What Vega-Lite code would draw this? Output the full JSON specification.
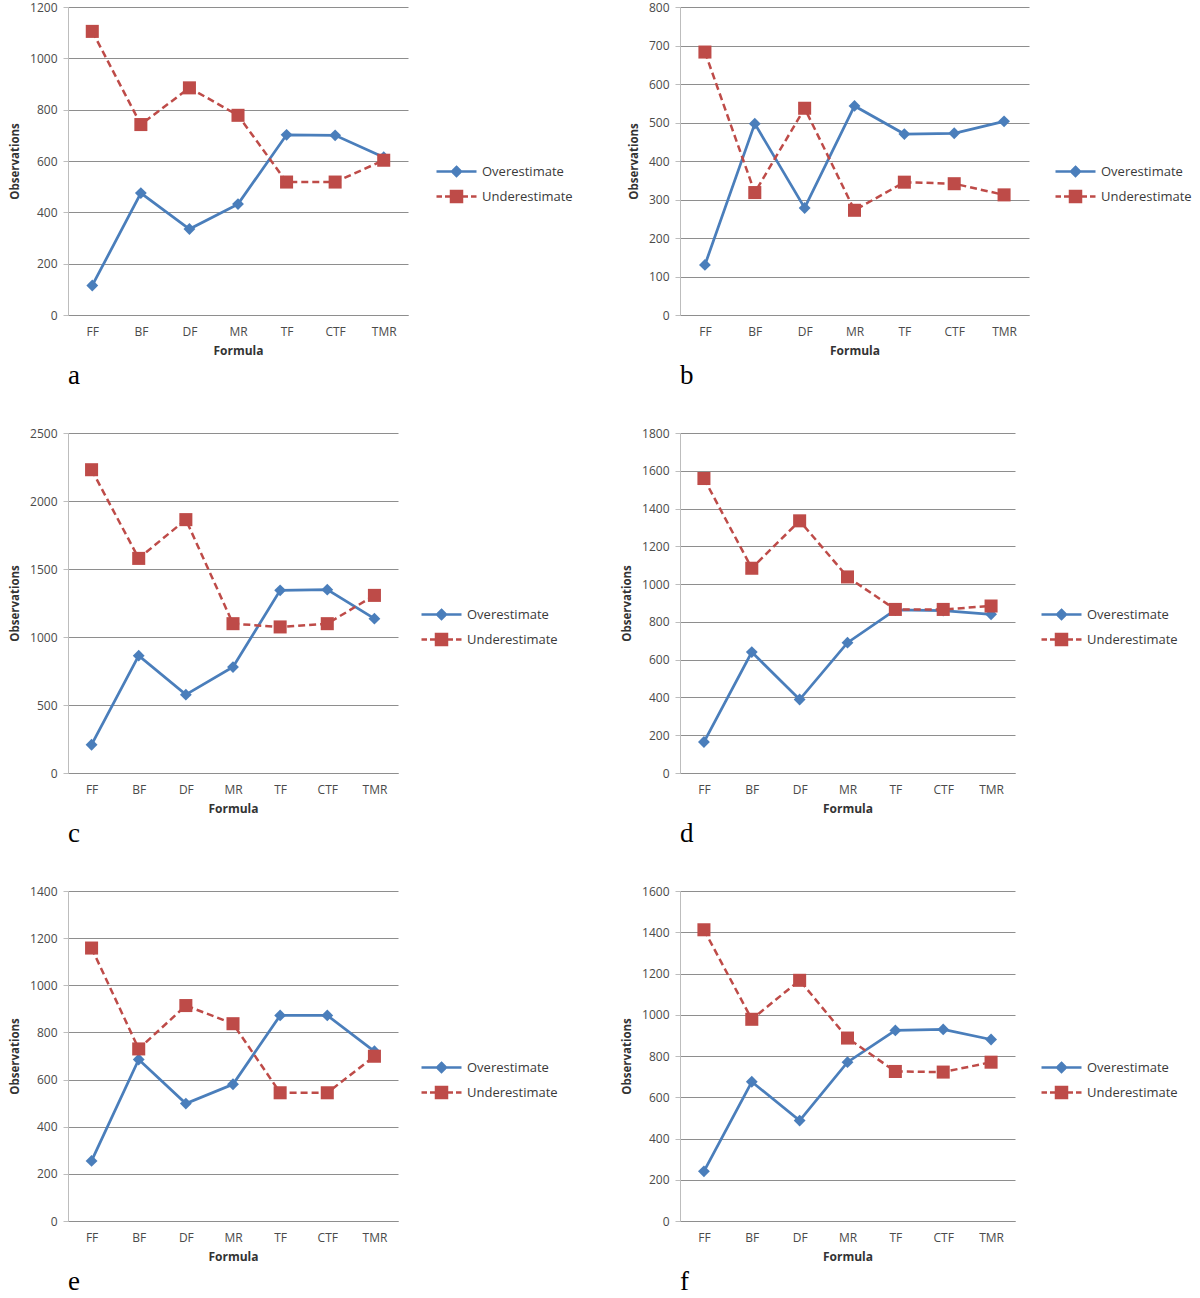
{
  "$schema": "https://vega.github.io/schema/vega-lite/v6.json",
  "padding": {"left": 9, "top": 1, "right": 0, "bottom": 0},
  "background": "white",
  "config": {
    "view": {"stroke": null},
    "font": "Open Sans",
    "axis": {"labelFont": "Open Sans", "labelFontSize": 12, "labelColor": "#4a4a4a", "titleFont": "Open Sans", "titleFontSize": 11.5, "titleFontWeight": "bold", "titleColor": "#333333", "domainColor": "#bdbdbd", "gridColor": "#8e8e8e", "gridWidth": 1, "tickColor": "#bdbdbd"},
    "axisX": {"grid": false, "ticks": false, "labelAngle": 0, "labelPadding": 11, "titlePadding": 8, "titleFontSize": 12, "domainColor": "#8e8e8e"},
    "axisY": {"grid": true, "tickSize": 5, "labelPadding": 6, "titlePadding": 9, "format": "d"},
    "title": {"font": "Liberation Serif", "fontSize": 27, "fontWeight": "normal", "color": "#000000"},
    "legend": {"orient": "none", "symbolSize": 400, "symbolStrokeWidth": 2.5, "symbolOpacity": 1, "labelFont": "Open Sans", "labelFontSize": 13, "labelColor": "#3a3a3a", "labelOffset": 14, "rowPadding": 4, "padding": 0}
  },
  "resolve": {
    "scale": {"fill": "independent", "stroke": "independent", "shape": "independent"},
    "legend": {"fill": "independent", "stroke": "independent", "shape": "independent"}
  },
  "data": {"values": [
    {"panel": "a", "formula": "FF", "series": "Overestimate", "value": 115},
    {"panel": "a", "formula": "BF", "series": "Overestimate", "value": 475},
    {"panel": "a", "formula": "DF", "series": "Overestimate", "value": 335},
    {"panel": "a", "formula": "MR", "series": "Overestimate", "value": 432},
    {"panel": "a", "formula": "TF", "series": "Overestimate", "value": 702},
    {"panel": "a", "formula": "CTF", "series": "Overestimate", "value": 700},
    {"panel": "a", "formula": "TMR", "series": "Overestimate", "value": 615},
    {"panel": "a", "formula": "FF", "series": "Underestimate", "value": 1105},
    {"panel": "a", "formula": "BF", "series": "Underestimate", "value": 742},
    {"panel": "a", "formula": "DF", "series": "Underestimate", "value": 885},
    {"panel": "a", "formula": "MR", "series": "Underestimate", "value": 778},
    {"panel": "a", "formula": "TF", "series": "Underestimate", "value": 518},
    {"panel": "a", "formula": "CTF", "series": "Underestimate", "value": 518},
    {"panel": "a", "formula": "TMR", "series": "Underestimate", "value": 603},
    {"panel": "b", "formula": "FF", "series": "Overestimate", "value": 130},
    {"panel": "b", "formula": "BF", "series": "Overestimate", "value": 497},
    {"panel": "b", "formula": "DF", "series": "Overestimate", "value": 278},
    {"panel": "b", "formula": "MR", "series": "Overestimate", "value": 543},
    {"panel": "b", "formula": "TF", "series": "Overestimate", "value": 470},
    {"panel": "b", "formula": "CTF", "series": "Overestimate", "value": 472},
    {"panel": "b", "formula": "TMR", "series": "Overestimate", "value": 503},
    {"panel": "b", "formula": "FF", "series": "Underestimate", "value": 683},
    {"panel": "b", "formula": "BF", "series": "Underestimate", "value": 318},
    {"panel": "b", "formula": "DF", "series": "Underestimate", "value": 537},
    {"panel": "b", "formula": "MR", "series": "Underestimate", "value": 272},
    {"panel": "b", "formula": "TF", "series": "Underestimate", "value": 345},
    {"panel": "b", "formula": "CTF", "series": "Underestimate", "value": 341},
    {"panel": "b", "formula": "TMR", "series": "Underestimate", "value": 312},
    {"panel": "c", "formula": "FF", "series": "Overestimate", "value": 208},
    {"panel": "c", "formula": "BF", "series": "Overestimate", "value": 863},
    {"panel": "c", "formula": "DF", "series": "Overestimate", "value": 576},
    {"panel": "c", "formula": "MR", "series": "Overestimate", "value": 779},
    {"panel": "c", "formula": "TF", "series": "Overestimate", "value": 1343},
    {"panel": "c", "formula": "CTF", "series": "Overestimate", "value": 1348},
    {"panel": "c", "formula": "TMR", "series": "Overestimate", "value": 1135},
    {"panel": "c", "formula": "FF", "series": "Underestimate", "value": 2230},
    {"panel": "c", "formula": "BF", "series": "Underestimate", "value": 1578},
    {"panel": "c", "formula": "DF", "series": "Underestimate", "value": 1863},
    {"panel": "c", "formula": "MR", "series": "Underestimate", "value": 1098},
    {"panel": "c", "formula": "TF", "series": "Underestimate", "value": 1074},
    {"panel": "c", "formula": "CTF", "series": "Underestimate", "value": 1098},
    {"panel": "c", "formula": "TMR", "series": "Underestimate", "value": 1306},
    {"panel": "d", "formula": "FF", "series": "Overestimate", "value": 164},
    {"panel": "d", "formula": "BF", "series": "Overestimate", "value": 640},
    {"panel": "d", "formula": "DF", "series": "Overestimate", "value": 389},
    {"panel": "d", "formula": "MR", "series": "Overestimate", "value": 690},
    {"panel": "d", "formula": "TF", "series": "Overestimate", "value": 863},
    {"panel": "d", "formula": "CTF", "series": "Overestimate", "value": 860},
    {"panel": "d", "formula": "TMR", "series": "Overestimate", "value": 840},
    {"panel": "d", "formula": "FF", "series": "Underestimate", "value": 1559},
    {"panel": "d", "formula": "BF", "series": "Underestimate", "value": 1084},
    {"panel": "d", "formula": "DF", "series": "Underestimate", "value": 1335},
    {"panel": "d", "formula": "MR", "series": "Underestimate", "value": 1038},
    {"panel": "d", "formula": "TF", "series": "Underestimate", "value": 866},
    {"panel": "d", "formula": "CTF", "series": "Underestimate", "value": 866},
    {"panel": "d", "formula": "TMR", "series": "Underestimate", "value": 884},
    {"panel": "e", "formula": "FF", "series": "Overestimate", "value": 255},
    {"panel": "e", "formula": "BF", "series": "Overestimate", "value": 685},
    {"panel": "e", "formula": "DF", "series": "Overestimate", "value": 498},
    {"panel": "e", "formula": "MR", "series": "Overestimate", "value": 580},
    {"panel": "e", "formula": "TF", "series": "Overestimate", "value": 872},
    {"panel": "e", "formula": "CTF", "series": "Overestimate", "value": 872},
    {"panel": "e", "formula": "TMR", "series": "Overestimate", "value": 720},
    {"panel": "e", "formula": "FF", "series": "Underestimate", "value": 1158},
    {"panel": "e", "formula": "BF", "series": "Underestimate", "value": 730},
    {"panel": "e", "formula": "DF", "series": "Underestimate", "value": 914},
    {"panel": "e", "formula": "MR", "series": "Underestimate", "value": 837},
    {"panel": "e", "formula": "TF", "series": "Underestimate", "value": 544},
    {"panel": "e", "formula": "CTF", "series": "Underestimate", "value": 544},
    {"panel": "e", "formula": "TMR", "series": "Underestimate", "value": 699},
    {"panel": "f", "formula": "FF", "series": "Overestimate", "value": 241},
    {"panel": "f", "formula": "BF", "series": "Overestimate", "value": 675},
    {"panel": "f", "formula": "DF", "series": "Overestimate", "value": 487},
    {"panel": "f", "formula": "MR", "series": "Overestimate", "value": 770},
    {"panel": "f", "formula": "TF", "series": "Overestimate", "value": 924},
    {"panel": "f", "formula": "CTF", "series": "Overestimate", "value": 929},
    {"panel": "f", "formula": "TMR", "series": "Overestimate", "value": 880},
    {"panel": "f", "formula": "FF", "series": "Underestimate", "value": 1412},
    {"panel": "f", "formula": "BF", "series": "Underestimate", "value": 978},
    {"panel": "f", "formula": "DF", "series": "Underestimate", "value": 1167},
    {"panel": "f", "formula": "MR", "series": "Underestimate", "value": 887},
    {"panel": "f", "formula": "TF", "series": "Underestimate", "value": 725},
    {"panel": "f", "formula": "CTF", "series": "Underestimate", "value": 722},
    {"panel": "f", "formula": "TMR", "series": "Underestimate", "value": 770}
  ]},
  "columns": 2,
  "spacing": {"row": 118, "column": 272},
  "bounds": "flush",
  "concat": [
    {
      "width": 340, "height": 308,
      "title": {"text": "a", "orient": "bottom", "anchor": "start", "frame": "group", "offset": 7},
      "transform": [{"filter": "datum.panel === 'a'"}],
      "encoding": {
        "x": {"field": "formula", "type": "nominal", "sort": ["FF", "BF", "DF", "MR", "TF", "CTF", "TMR"], "scale": {"type": "point", "padding": 0.5}, "title": "Formula"},
        "y": {"field": "value", "type": "quantitative", "scale": {"domain": [0, 1200], "nice": false}, "axis": {"values": [0, 200, 400, 600, 800, 1000, 1200]}, "title": "Observations"}
      },
      "layer": [
        {"transform": [{"filter": "datum.series === 'Overestimate'"}], "mark": {"type": "line", "color": "#4A7EBB", "strokeWidth": 2.75}},
        {"transform": [{"filter": "datum.series === 'Underestimate'"}], "mark": {"type": "line", "color": "#BE4B48", "strokeWidth": 2.5, "strokeDash": [7, 4]}},
        {"transform": [{"filter": "datum.series === 'Overestimate'"}], "mark": {"type": "point", "shape": "diamond", "filled": true, "size": 140, "color": "#4A7EBB", "opacity": 1}},
        {"transform": [{"filter": "datum.series === 'Underestimate'"}], "mark": {"type": "point", "shape": "square", "filled": true, "size": 170, "color": "#BE4B48", "opacity": 1}},
        {"mark": {"type": "point", "filled": true, "opacity": 0}, "encoding": {
          "fill": {"field": "series", "type": "nominal", "title": null, "scale": {"domain": ["Overestimate", "Underestimate"], "range": ["#4A7EBB", "#BE4B48"]}, "legend": {"legendX": 377, "legendY": 153}},
          "stroke": {"field": "series", "type": "nominal", "title": null, "scale": {"domain": ["Overestimate", "Underestimate"], "range": ["#4A7EBB", "#BE4B48"]}, "legend": {"legendX": 377, "legendY": 153}},
          "shape": {"field": "series", "type": "nominal", "title": null, "scale": {"domain": ["Overestimate", "Underestimate"], "range": ["M-2,0H2M0,-0.45L0.45,0L0,0.45L-0.45,0Z", "M-2,0H-1.45M-1.15,0H-0.6M0.6,0H1.15M1.45,0H2M-0.55,-0.55H0.55V0.55H-0.55Z"]}, "legend": {"legendX": 377, "legendY": 153}}
        }}
      ]
    },
    {
      "width": 349, "height": 308,
      "title": {"text": "b", "orient": "bottom", "anchor": "start", "frame": "group", "offset": 7},
      "transform": [{"filter": "datum.panel === 'b'"}],
      "encoding": {
        "x": {"field": "formula", "type": "nominal", "sort": ["FF", "BF", "DF", "MR", "TF", "CTF", "TMR"], "scale": {"type": "point", "padding": 0.5}, "title": "Formula"},
        "y": {"field": "value", "type": "quantitative", "scale": {"domain": [0, 800], "nice": false}, "axis": {"values": [0, 100, 200, 300, 400, 500, 600, 700, 800]}, "title": "Observations"}
      },
      "layer": [
        {"transform": [{"filter": "datum.series === 'Overestimate'"}], "mark": {"type": "line", "color": "#4A7EBB", "strokeWidth": 2.75}},
        {"transform": [{"filter": "datum.series === 'Underestimate'"}], "mark": {"type": "line", "color": "#BE4B48", "strokeWidth": 2.5, "strokeDash": [7, 4]}},
        {"transform": [{"filter": "datum.series === 'Overestimate'"}], "mark": {"type": "point", "shape": "diamond", "filled": true, "size": 140, "color": "#4A7EBB", "opacity": 1}},
        {"transform": [{"filter": "datum.series === 'Underestimate'"}], "mark": {"type": "point", "shape": "square", "filled": true, "size": 170, "color": "#BE4B48", "opacity": 1}},
        {"mark": {"type": "point", "filled": true, "opacity": 0}, "encoding": {
          "fill": {"field": "series", "type": "nominal", "title": null, "scale": {"domain": ["Overestimate", "Underestimate"], "range": ["#4A7EBB", "#BE4B48"]}, "legend": {"legendX": 384, "legendY": 153}},
          "stroke": {"field": "series", "type": "nominal", "title": null, "scale": {"domain": ["Overestimate", "Underestimate"], "range": ["#4A7EBB", "#BE4B48"]}, "legend": {"legendX": 384, "legendY": 153}},
          "shape": {"field": "series", "type": "nominal", "title": null, "scale": {"domain": ["Overestimate", "Underestimate"], "range": ["M-2,0H2M0,-0.45L0.45,0L0,0.45L-0.45,0Z", "M-2,0H-1.45M-1.15,0H-0.6M0.6,0H1.15M1.45,0H2M-0.55,-0.55H0.55V0.55H-0.55Z"]}, "legend": {"legendX": 384, "legendY": 153}}
        }}
      ]
    },
    {
      "width": 330, "height": 340,
      "title": {"text": "c", "orient": "bottom", "anchor": "start", "frame": "group", "offset": 7},
      "transform": [{"filter": "datum.panel === 'c'"}],
      "encoding": {
        "x": {"field": "formula", "type": "nominal", "sort": ["FF", "BF", "DF", "MR", "TF", "CTF", "TMR"], "scale": {"type": "point", "padding": 0.5}, "title": "Formula"},
        "y": {"field": "value", "type": "quantitative", "scale": {"domain": [0, 2500], "nice": false}, "axis": {"values": [0, 500, 1000, 1500, 2000, 2500]}, "title": "Observations"}
      },
      "layer": [
        {"transform": [{"filter": "datum.series === 'Overestimate'"}], "mark": {"type": "line", "color": "#4A7EBB", "strokeWidth": 2.75}},
        {"transform": [{"filter": "datum.series === 'Underestimate'"}], "mark": {"type": "line", "color": "#BE4B48", "strokeWidth": 2.5, "strokeDash": [7, 4]}},
        {"transform": [{"filter": "datum.series === 'Overestimate'"}], "mark": {"type": "point", "shape": "diamond", "filled": true, "size": 140, "color": "#4A7EBB", "opacity": 1}},
        {"transform": [{"filter": "datum.series === 'Underestimate'"}], "mark": {"type": "point", "shape": "square", "filled": true, "size": 170, "color": "#BE4B48", "opacity": 1}},
        {"mark": {"type": "point", "filled": true, "opacity": 0}, "encoding": {
          "fill": {"field": "series", "type": "nominal", "title": null, "scale": {"domain": ["Overestimate", "Underestimate"], "range": ["#4A7EBB", "#BE4B48"]}, "legend": {"legendX": 362, "legendY": 170}},
          "stroke": {"field": "series", "type": "nominal", "title": null, "scale": {"domain": ["Overestimate", "Underestimate"], "range": ["#4A7EBB", "#BE4B48"]}, "legend": {"legendX": 362, "legendY": 170}},
          "shape": {"field": "series", "type": "nominal", "title": null, "scale": {"domain": ["Overestimate", "Underestimate"], "range": ["M-2,0H2M0,-0.45L0.45,0L0,0.45L-0.45,0Z", "M-2,0H-1.45M-1.15,0H-0.6M0.6,0H1.15M1.45,0H2M-0.55,-0.55H0.55V0.55H-0.55Z"]}, "legend": {"legendX": 362, "legendY": 170}}
        }}
      ]
    },
    {
      "width": 335, "height": 340,
      "title": {"text": "d", "orient": "bottom", "anchor": "start", "frame": "group", "offset": 7},
      "transform": [{"filter": "datum.panel === 'd'"}],
      "encoding": {
        "x": {"field": "formula", "type": "nominal", "sort": ["FF", "BF", "DF", "MR", "TF", "CTF", "TMR"], "scale": {"type": "point", "padding": 0.5}, "title": "Formula"},
        "y": {"field": "value", "type": "quantitative", "scale": {"domain": [0, 1800], "nice": false}, "axis": {"values": [0, 200, 400, 600, 800, 1000, 1200, 1400, 1600, 1800]}, "title": "Observations"}
      },
      "layer": [
        {"transform": [{"filter": "datum.series === 'Overestimate'"}], "mark": {"type": "line", "color": "#4A7EBB", "strokeWidth": 2.75}},
        {"transform": [{"filter": "datum.series === 'Underestimate'"}], "mark": {"type": "line", "color": "#BE4B48", "strokeWidth": 2.5, "strokeDash": [7, 4]}},
        {"transform": [{"filter": "datum.series === 'Overestimate'"}], "mark": {"type": "point", "shape": "diamond", "filled": true, "size": 140, "color": "#4A7EBB", "opacity": 1}},
        {"transform": [{"filter": "datum.series === 'Underestimate'"}], "mark": {"type": "point", "shape": "square", "filled": true, "size": 170, "color": "#BE4B48", "opacity": 1}},
        {"mark": {"type": "point", "filled": true, "opacity": 0}, "encoding": {
          "fill": {"field": "series", "type": "nominal", "title": null, "scale": {"domain": ["Overestimate", "Underestimate"], "range": ["#4A7EBB", "#BE4B48"]}, "legend": {"legendX": 370, "legendY": 170}},
          "stroke": {"field": "series", "type": "nominal", "title": null, "scale": {"domain": ["Overestimate", "Underestimate"], "range": ["#4A7EBB", "#BE4B48"]}, "legend": {"legendX": 370, "legendY": 170}},
          "shape": {"field": "series", "type": "nominal", "title": null, "scale": {"domain": ["Overestimate", "Underestimate"], "range": ["M-2,0H2M0,-0.45L0.45,0L0,0.45L-0.45,0Z", "M-2,0H-1.45M-1.15,0H-0.6M0.6,0H1.15M1.45,0H2M-0.55,-0.55H0.55V0.55H-0.55Z"]}, "legend": {"legendX": 370, "legendY": 170}}
        }}
      ]
    },
    {
      "width": 330, "height": 330,
      "title": {"text": "e", "orient": "bottom", "anchor": "start", "frame": "group", "offset": 7},
      "transform": [{"filter": "datum.panel === 'e'"}],
      "encoding": {
        "x": {"field": "formula", "type": "nominal", "sort": ["FF", "BF", "DF", "MR", "TF", "CTF", "TMR"], "scale": {"type": "point", "padding": 0.5}, "title": "Formula"},
        "y": {"field": "value", "type": "quantitative", "scale": {"domain": [0, 1400], "nice": false}, "axis": {"values": [0, 200, 400, 600, 800, 1000, 1200, 1400]}, "title": "Observations"}
      },
      "layer": [
        {"transform": [{"filter": "datum.series === 'Overestimate'"}], "mark": {"type": "line", "color": "#4A7EBB", "strokeWidth": 2.75}},
        {"transform": [{"filter": "datum.series === 'Underestimate'"}], "mark": {"type": "line", "color": "#BE4B48", "strokeWidth": 2.5, "strokeDash": [7, 4]}},
        {"transform": [{"filter": "datum.series === 'Overestimate'"}], "mark": {"type": "point", "shape": "diamond", "filled": true, "size": 140, "color": "#4A7EBB", "opacity": 1}},
        {"transform": [{"filter": "datum.series === 'Underestimate'"}], "mark": {"type": "point", "shape": "square", "filled": true, "size": 170, "color": "#BE4B48", "opacity": 1}},
        {"mark": {"type": "point", "filled": true, "opacity": 0}, "encoding": {
          "fill": {"field": "series", "type": "nominal", "title": null, "scale": {"domain": ["Overestimate", "Underestimate"], "range": ["#4A7EBB", "#BE4B48"]}, "legend": {"legendX": 362, "legendY": 165}},
          "stroke": {"field": "series", "type": "nominal", "title": null, "scale": {"domain": ["Overestimate", "Underestimate"], "range": ["#4A7EBB", "#BE4B48"]}, "legend": {"legendX": 362, "legendY": 165}},
          "shape": {"field": "series", "type": "nominal", "title": null, "scale": {"domain": ["Overestimate", "Underestimate"], "range": ["M-2,0H2M0,-0.45L0.45,0L0,0.45L-0.45,0Z", "M-2,0H-1.45M-1.15,0H-0.6M0.6,0H1.15M1.45,0H2M-0.55,-0.55H0.55V0.55H-0.55Z"]}, "legend": {"legendX": 362, "legendY": 165}}
        }}
      ]
    },
    {
      "width": 335, "height": 330,
      "title": {"text": "f", "orient": "bottom", "anchor": "start", "frame": "group", "offset": 7},
      "transform": [{"filter": "datum.panel === 'f'"}],
      "encoding": {
        "x": {"field": "formula", "type": "nominal", "sort": ["FF", "BF", "DF", "MR", "TF", "CTF", "TMR"], "scale": {"type": "point", "padding": 0.5}, "title": "Formula"},
        "y": {"field": "value", "type": "quantitative", "scale": {"domain": [0, 1600], "nice": false}, "axis": {"values": [0, 200, 400, 600, 800, 1000, 1200, 1400, 1600]}, "title": "Observations"}
      },
      "layer": [
        {"transform": [{"filter": "datum.series === 'Overestimate'"}], "mark": {"type": "line", "color": "#4A7EBB", "strokeWidth": 2.75}},
        {"transform": [{"filter": "datum.series === 'Underestimate'"}], "mark": {"type": "line", "color": "#BE4B48", "strokeWidth": 2.5, "strokeDash": [7, 4]}},
        {"transform": [{"filter": "datum.series === 'Overestimate'"}], "mark": {"type": "point", "shape": "diamond", "filled": true, "size": 140, "color": "#4A7EBB", "opacity": 1}},
        {"transform": [{"filter": "datum.series === 'Underestimate'"}], "mark": {"type": "point", "shape": "square", "filled": true, "size": 170, "color": "#BE4B48", "opacity": 1}},
        {"mark": {"type": "point", "filled": true, "opacity": 0}, "encoding": {
          "fill": {"field": "series", "type": "nominal", "title": null, "scale": {"domain": ["Overestimate", "Underestimate"], "range": ["#4A7EBB", "#BE4B48"]}, "legend": {"legendX": 370, "legendY": 165}},
          "stroke": {"field": "series", "type": "nominal", "title": null, "scale": {"domain": ["Overestimate", "Underestimate"], "range": ["#4A7EBB", "#BE4B48"]}, "legend": {"legendX": 370, "legendY": 165}},
          "shape": {"field": "series", "type": "nominal", "title": null, "scale": {"domain": ["Overestimate", "Underestimate"], "range": ["M-2,0H2M0,-0.45L0.45,0L0,0.45L-0.45,0Z", "M-2,0H-1.45M-1.15,0H-0.6M0.6,0H1.15M1.45,0H2M-0.55,-0.55H0.55V0.55H-0.55Z"]}, "legend": {"legendX": 370, "legendY": 165}}
        }}
      ]
    }
  ]
}
